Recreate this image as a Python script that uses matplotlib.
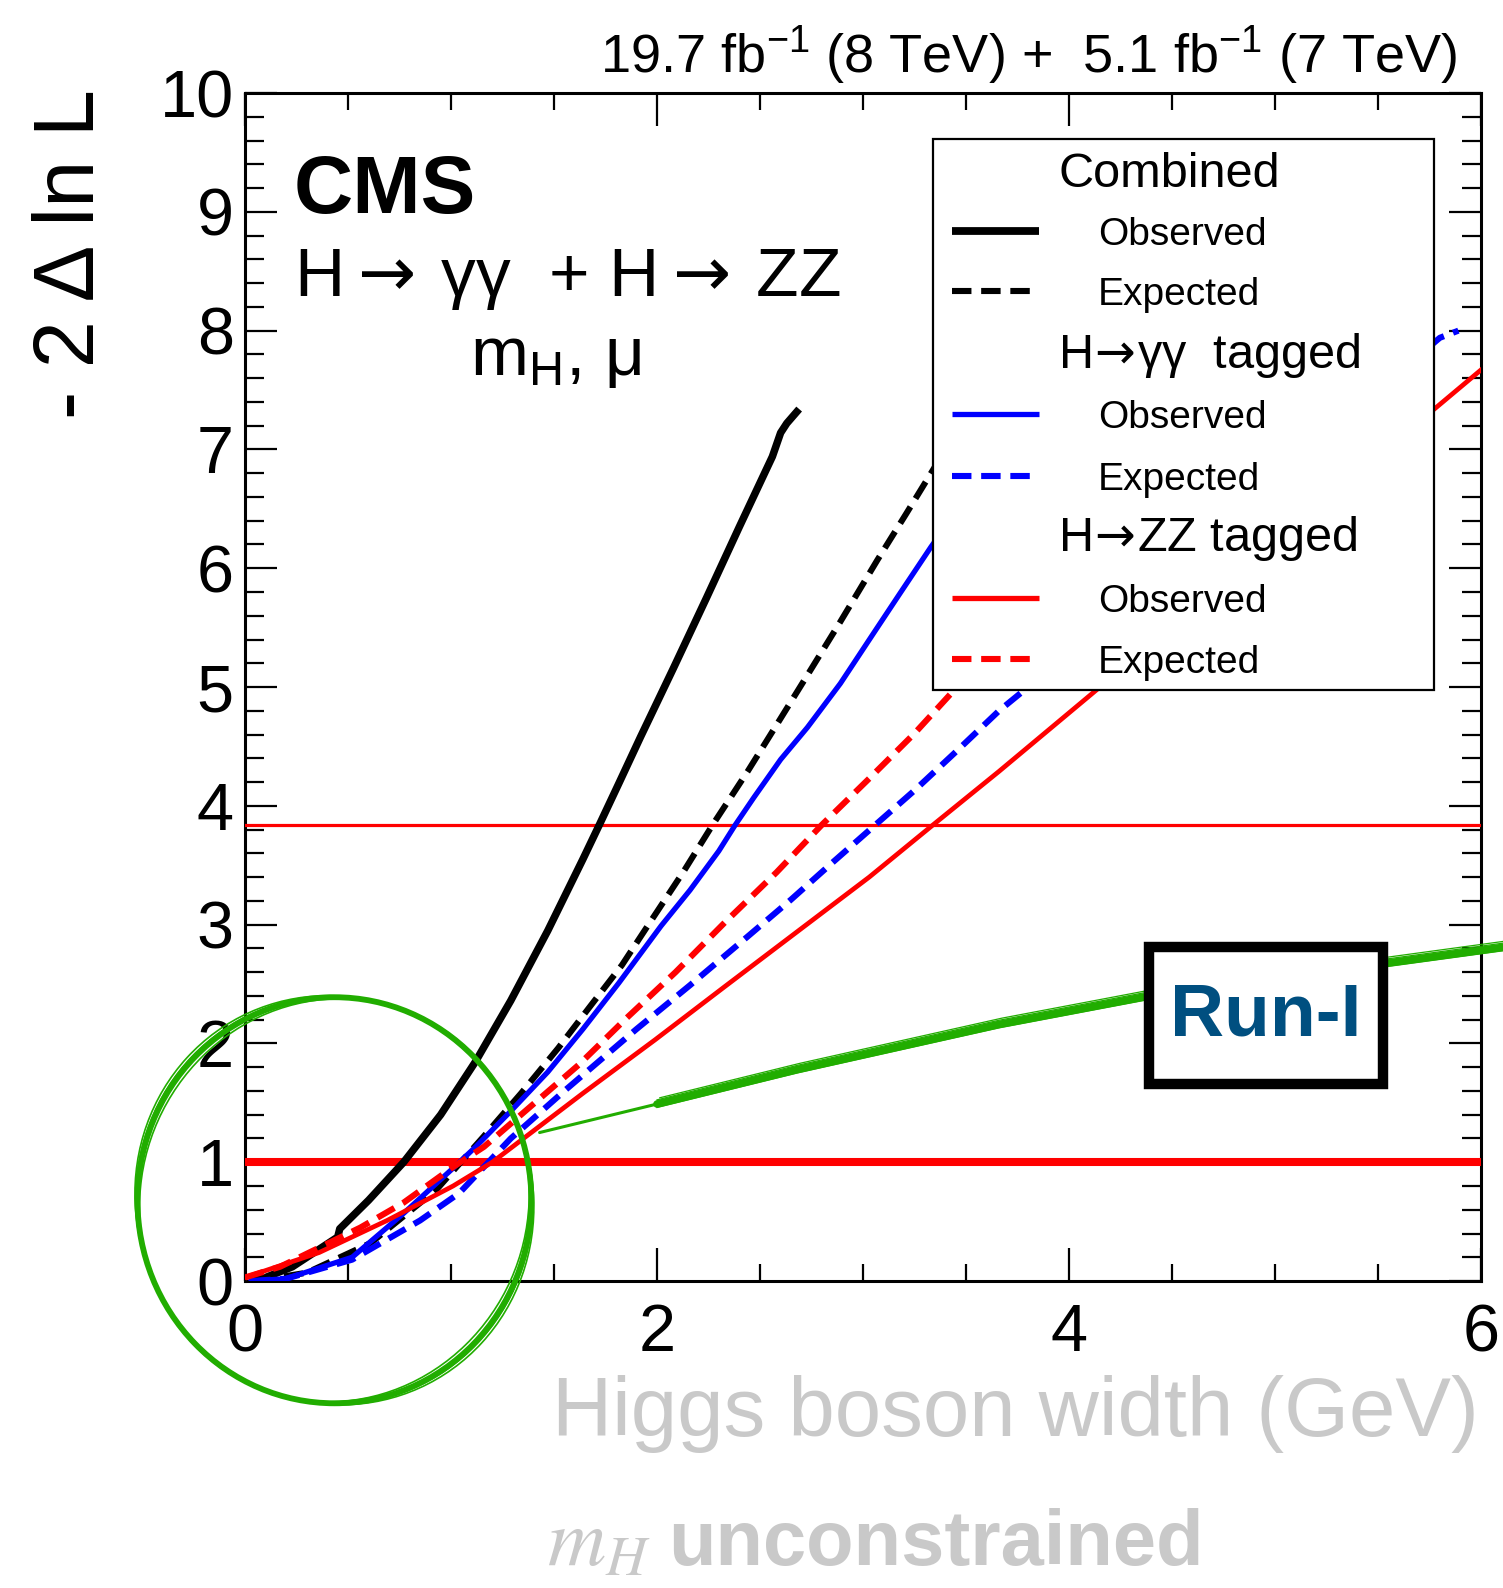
import matplotlib
matplotlib.use("Agg")
import matplotlib.pyplot as plt
from matplotlib.patches import Ellipse, Rectangle
from matplotlib.ticker import MultipleLocator
from matplotlib import transforms

plt.rcParams['font.family'] = ['Liberation Sans', 'DejaVu Sans']
plt.rcParams['mathtext.fontset'] = 'custom'
plt.rcParams['mathtext.rm'] = 'Liberation Sans'
plt.rcParams['mathtext.it'] = 'Liberation Sans:italic'
plt.rcParams['mathtext.bf'] = 'Liberation Sans:bold'
plt.rcParams['lines.scale_dashes'] = False

# scans: Higgs width (GeV) vs -2 dlnL
comb_obs_x = [0.03, 0.1, 0.23, 0.45, 0.46, 0.6, 0.77, 0.95, 1.12, 1.29, 1.47, 1.64, 1.72, 1.815,
              1.92, 2.08, 2.24, 2.40, 2.56, 2.60, 2.63, 2.69]
comb_obs_y = [0.0, 0.03, 0.12, 0.37, 0.44, 0.68, 1.0, 1.40, 1.85, 2.36, 2.95, 3.55, 3.84, 4.19,
              4.58, 5.16, 5.75, 6.35, 6.94, 7.14, 7.22, 7.34]
comb_exp_x = [0.05, 0.3, 0.61, 0.93, 1.16, 1.34, 1.52, 1.67, 1.83, 1.97, 2.13, 2.27, 2.44,
              2.58, 2.73, 2.89, 3.07, 3.21, 3.33, 3.4]
comb_exp_y = [0.0, 0.07, 0.32, 0.77, 1.22, 1.58, 1.96, 2.30, 2.66, 3.03, 3.45, 3.84, 4.29,
              4.68, 5.10, 5.55, 6.07, 6.46, 6.80, 7.0]
gg_obs_x = [0.03, 0.2, 0.52, 0.77, 1.01, 1.12, 1.29, 1.47, 1.64, 1.815, 2.02, 2.16, 2.30, 2.38,
            2.47, 2.60, 2.73, 2.89, 3.05, 3.18, 3.33, 3.4]
gg_obs_y = [0.0, 0.02, 0.2, 0.57, 0.95, 1.13, 1.43, 1.76, 2.12, 2.51, 2.99, 3.29, 3.62, 3.84,
            4.07, 4.39, 4.66, 5.03, 5.45, 5.79, 6.18, 6.35]
gg_exp_x = [0.03, 0.2, 0.52, 0.85, 1.04, 1.29, 1.55, 1.90, 2.16, 2.44, 2.65, 2.85, 3.06,
            3.25, 3.46, 3.66, 3.78, 5.8, 5.89]
gg_exp_y = [0.0, 0.02, 0.18, 0.51, 0.74, 1.20, 1.60, 2.12, 2.49, 2.90, 3.21, 3.52, 3.84,
            4.13, 4.47, 4.80, 4.97, 7.94, 8.0]
zz_obs_x = [0.0, 0.36, 0.69, 1.01, 1.2, 1.64, 1.99, 2.33, 2.68, 3.03, 3.34, 3.66, 4.15, 5.78, 6.0]
zz_obs_y = [0.03, 0.24, 0.51, 0.80, 1.0, 1.58, 2.03, 2.48, 2.94, 3.40, 3.84, 4.29, 5.0, 7.35, 7.67]
zz_exp_x = [0.0, 0.17, 0.56, 0.77, 1.01, 1.16, 1.40, 1.62, 1.85, 2.09, 2.33, 2.58, 2.80, 3.03,
            3.25, 3.44, 3.6]
zz_exp_y = [0.03, 0.12, 0.45, 0.66, 0.96, 1.13, 1.49, 1.82, 2.21, 2.60, 3.02, 3.44, 3.84, 4.23,
            4.61, 4.97, 5.3]

cl68 = 1.0
cl95 = 3.84

# hand drawn annotation
note_x = [1.43, 2.0, 2.68, 3.66, 4.36, 5.56, 6.11]
note_y = [1.25, 1.49, 1.78, 2.16, 2.39, 2.68, 2.81]

xticks = [0, 2, 4, 6]
yticks = list(range(0, 11))

green = '#21ad00'
gray = '#c9c9c9'

fig = plt.figure(figsize=(15.03, 15.88), dpi=100)
ax = fig.add_axes([0.1630, 0.1933, 0.8224, 0.7481])

dash = (14, 7)
ax.plot(comb_obs_x, comb_obs_y, color='black', lw=5.4, zorder=4, solid_capstyle='butt')
ax.plot(comb_exp_x, comb_exp_y, color='black', lw=4.4, dashes=dash, zorder=4)
ax.plot(gg_obs_x, gg_obs_y, color='#0000ff', lw=3.8, zorder=4)
ax.plot(gg_exp_x, gg_exp_y, color='#0000ff', lw=4.4, dashes=dash, zorder=4)
ax.plot(zz_obs_x, zz_obs_y, color='#ff0000', lw=3.4, zorder=4)
ax.plot(zz_exp_x, zz_exp_y, color='#ff0000', lw=4.4, dashes=dash, zorder=4)

ax.axhline(cl68, color='#ff0000', lw=5.8, zorder=3)
ax.axhline(cl95, color='#ff0000', lw=2.3, zorder=3)

ax.set_xlim(0, 6)
ax.set_ylim(0, 10)
ax.set_xticks(xticks)
ax.set_yticks(yticks)
ax.xaxis.set_minor_locator(MultipleLocator(0.5))
ax.yaxis.set_minor_locator(MultipleLocator(0.2))
ax.tick_params(which='both', direction='in', top=True, right=True, width=1.6, labelsize=48)
ax.tick_params(which='major', axis='y', length=23, pad=8)
ax.tick_params(which='minor', axis='y', length=13.5)
ax.tick_params(which='major', axis='x', length=24, pad=16)
ax.tick_params(which='minor', axis='x', length=12)
for s in ax.spines.values():
    s.set_linewidth(2.2)

# legend drawn by hand (ROOT style with headers)
ax.add_patch(Rectangle((0.5566, 0.4975), 0.4054, 0.4638, transform=ax.transAxes,
                       facecolor='white', edgecolor='black', lw=1.6, zorder=10, clip_on=False))
headers = ['Combined', r'H$\!\rightarrow\!$γγ  tagged', r'H$\!\rightarrow\!$ZZ tagged']
header_y = [0.9209, 0.7689, 0.6141]
for t, yb in zip(headers, header_y):
    ax.text(0.6578, yb, t, transform=ax.transAxes, fontsize=35, va='baseline', zorder=11,
            math_fontfamily='dejavusans')
entry_labels = ['Observed', 'Expected'] * 3
entry_colors = ['black', 'black', '#0000ff', '#0000ff', '#ff0000', '#ff0000']
entry_dashed = [False, True] * 3
entry_widths = [5.6, 4.4, 3.8, 4.4, 3.8, 4.4]
entry_y = [0.8838, 0.8333, 0.7298, 0.6776, 0.5749, 0.5236]
for lab, c, d, w, yc in zip(entry_labels, entry_colors, entry_dashed, entry_widths, entry_y):
    kw = dict(dashes=dash) if d else {}
    ax.plot([0.5720, 0.6424], [yc, yc], transform=ax.transAxes, color=c, lw=w,
            zorder=11, clip_on=False, solid_capstyle='butt', **kw)
    ax.text(0.6901, yc - 0.0114, lab, transform=ax.transAxes, fontsize=28,
            va='baseline', zorder=11)

# texts
ax.text(0.0396, 0.899, 'CMS', transform=ax.transAxes, fontsize=59, fontweight='bold', va='baseline')
ax.text(0.0396, 0.829, r'H$\rightarrow\,$γγ  + H$\rightarrow\,$ZZ', transform=ax.transAxes,
        fontsize=50, va='baseline', math_fontfamily='dejavusans')
ax.text(0.251, 0.7626, r'm$_{\mathrm{H}}$, μ', transform=ax.transAxes, fontsize=50,
        va='baseline', ha='center')
fig.text(0.970, 0.954, r'19.7 fb$^{-1}$ (8 TeV) +  5.1 fb$^{-1}$ (7 TeV)', fontsize=39,
         ha='right', va='baseline')
fig.text(0.0480, 0.9440, '- 2 Δ ln L', fontsize=61, rotation=90, ha='center', va='top')
fig.text(0.984, 0.0957, 'Higgs boson width (GeV)', fontsize=60, color=gray,
         ha='right', va='baseline')
fig.text(0.364, 0.0145, r'$m_H$', fontsize=58, color=gray, math_fontfamily='stix',
         ha='left', va='baseline')
fig.text(0.4444, 0.0145, 'unconstrained', fontsize=56, fontweight='bold', color=gray,
         ha='left', va='baseline')

# Run-I box and green sketch
ax.plot(note_x, note_y, color=green, lw=2.2, zorder=6, clip_on=False, solid_capstyle='round')
ax.plot(note_x[1:], note_y[1:], color=green, lw=5.5, zorder=6, clip_on=False,
        solid_capstyle='round')
for dx, dy in [(0, 3.0), (0, -2.5), (2, 4.5)]:
    off = transforms.offset_copy(ax.transData, fig=fig, x=dx, y=dy, units='points')
    ax.plot(note_x[1:], note_y[1:], color=green, lw=0.9, zorder=6, clip_on=False, transform=off)
ax.add_patch(Rectangle((4.388, 1.658), 1.136, 1.153, facecolor='white', edgecolor='black',
                       lw=7.5, zorder=8, clip_on=False))
ax.text(4.956, 2.235, 'Run-I', color='#004f80', fontsize=54, fontweight='bold',
        ha='center', va='center', zorder=9)

for w, h, a, lw in [(1.912, 3.418, 0, 4.2), (1.935, 3.445, 1.5, 1.2), (1.89, 3.395, -1.5, 1.2),
                    (1.925, 3.43, 0.5, 1.6)]:
    ax.add_patch(Ellipse((0.434, 0.68), w, h, angle=a, fill=False, edgecolor=green,
                         lw=lw, zorder=12, clip_on=False))

fig.savefig('out.png', dpi=100)
